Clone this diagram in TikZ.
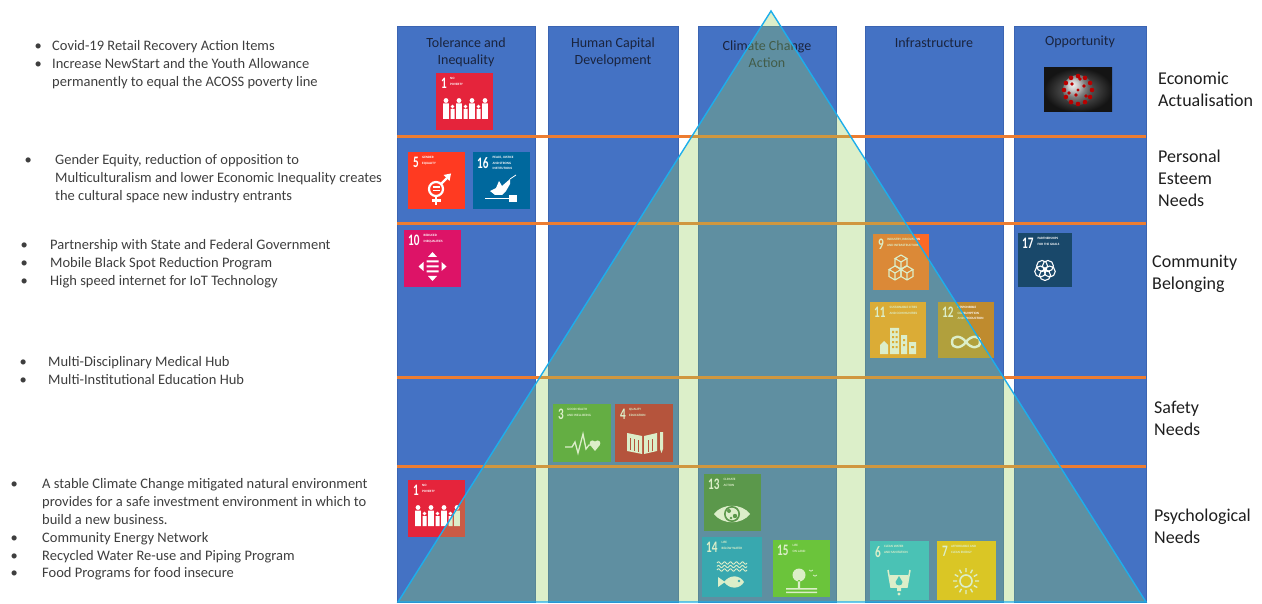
\documentclass[tikz,border=0pt]{standalone}
\usepackage{fontspec}
\setmainfont{Carlito}

\definecolor{pillarblue}{HTML}{4472C4}
\definecolor{pillarrim}{HTML}{3B64B2}
\definecolor{rungorange}{HTML}{ED7D31}
\definecolor{apexcyan}{HTML}{1DAEEB}
\definecolor{apexfill}{RGB}{150,205,92}
\definecolor{headink}{RGB}{26,36,62}
\definecolor{levelink}{RGB}{30,30,30}
\definecolor{noteink}{RGB}{62,62,62}
\definecolor{goalone}{HTML}{E5243B}
\definecolor{goalthree}{HTML}{4C9F38}
\definecolor{goalfour}{HTML}{C5192D}
\definecolor{goalfive}{HTML}{FF3A21}
\definecolor{goalsix}{HTML}{26BDE2}
\definecolor{goalseven}{HTML}{FCC30B}
\definecolor{goalnine}{HTML}{FD6925}
\definecolor{goalten}{HTML}{DD1367}
\definecolor{goaleleven}{HTML}{FD9D24}
\definecolor{goaltwelve}{HTML}{BF8B2E}
\definecolor{goalthirteen}{HTML}{3F7E44}
\definecolor{goalfourteen}{HTML}{0A97D9}
\definecolor{goalfifteen}{HTML}{56C02B}
\definecolor{goalsixteen}{HTML}{00689D}
\definecolor{goalseventeen}{HTML}{19486A}

\begin{document}
\begin{tikzpicture}[x=1pt, y=-1pt,
    pillar/.style={anchor=north west, minimum height=576pt, inner sep=0pt, fill=pillarblue, draw=pillarrim, line width=0.8pt},
    rung/.style={draw=rungorange, line width=3pt},
    head/.style={anchor=north, inner sep=0pt, align=center, text=headink, font=\fontsize{14}{17}\selectfont},
    level/.style={anchor=north west, inner sep=0pt, align=left, text=levelink, font=\fontsize{18}{22}\selectfont},
    note/.style={anchor=north west, inner sep=0pt, text=noteink, font=\fontsize{14.5}{17.8}\selectfont},
    tile/.style={anchor=north west, minimum size=57pt, inner sep=0pt},
    goalno/.style={anchor=north west, inner sep=0pt, text=white, font=\bfseries\fontsize{16}{16}\selectfont},
    goalname/.style={anchor=north west, inner sep=0pt, align=left, text=white, font=\bfseries\fontsize{3.3}{5.8}\selectfont}]

    \useasboundingbox (0,0) rectangle (1262,604);

    % Draw columns
    \node[pillar, minimum width=138pt] (tolerance) at (397,26) {};
    \node[pillar, minimum width=130pt] (humancap) at (548,26) {};
    \node[pillar, minimum width=138pt] (climate) at (698,26) {};
    \node[pillar, minimum width=138pt] (infra) at (865,26) {};
    \node[pillar, minimum width=132pt] (opport) at (1014,26) {};

    % Draw level separators
    \draw[rung] (397,137) -- (1146,137);
    \draw[rung] (397,224) -- (1146,224);
    \draw[rung] (397,377) -- (1146,377);
    \draw[rung] (397,466) -- (1146,466);

    % Column titles
    \node[head] (tolhead) at (466,37.5) {Tolerance and\\Inequality};
    \node[head] (humhead) at (613,37.5) {Human Capital\\Development};
    \node[head] (climhead) at (767,40.5) {Climate Change\\Action};
    \node[head] (infhead) at (934,37.5) {Infrastructure};
    \node[head] (opphead) at (1080,35.5) {Opportunity};

    % Goal 1 (top)
    \begin{scope}[shift={(436,73)}]
        \node[tile, fill=goalone] (povertyup) at (0,0) {};
        \node[goalno] (povertyupno) at (5,5) {\scalebox{0.7}[1]{1}};
        \node[goalname] (povertyupname) at (14,4.5) {NO\\POVERTY};
        \fill[white] (10,27.5) circle (2.4) (7.2,30.5) rectangle (12.8,46)
                     (16.5,33.5) circle (1.9) (14.5,36) rectangle (18.5,46)
                     (23,27.5) circle (2.4) (20.2,30.5) rectangle (25.8,46)
                     (29.5,33.5) circle (1.9) (27.5,36) rectangle (31.5,46)
                     (36,27.5) circle (2.4) (33.2,30.5) rectangle (38.8,46)
                     (42.5,33.5) circle (1.9) (40.5,36) rectangle (44.5,46)
                     (49,27.5) circle (2.4) (46.2,30.5) rectangle (51.8,46);
    \end{scope}

    % Goal 5
    \begin{scope}[shift={(408,152)}]
        \node[tile, fill=goalfive] (gender) at (0,0) {};
        \node[goalno] (genderno) at (5,5) {\scalebox{0.7}[1]{5}};
        \node[goalname] (gendername) at (14,4.5) {GENDER\\EQUALITY};
        \draw[white, line width=2.2pt] (28,37) circle (7);
        \draw[white, line width=2.2pt] (33,32) -- (39,26);
        \fill[white] (43,21.5) -- (35.5,23) -- (41.5,29) -- cycle;
        \draw[white, line width=2.2pt] (28,44) -- (28,53) (23.5,48.5) -- (32.5,48.5);
        \draw[white, line width=1.4pt] (24.5,35.2) -- (31.5,35.2) (24.5,38.8) -- (31.5,38.8);
    \end{scope}

    % Goal 16
    \begin{scope}[shift={(473,152)}]
        \node[tile, fill=goalsixteen] (peace) at (0,0) {};
        \node[goalno] (peaceno) at (4,5) {\scalebox{0.7}[1]{16}};
        \node[goalname] (peacename) at (19.5,4) {PEACE, JUSTICE\\AND STRONG\\INSTITUTIONS};
        \fill[white] (17,39) -- (23,36) -- (26,29) -- (29,34) -- (37,27) -- (37,32) -- (33,39) -- (29,43) -- (22,43) -- cycle;
        \draw[white, line width=0.8pt] (37,27) -- (43,23);
        \fill[white] (12,46) rectangle (37,47.5);
        \fill[white] (36,43) rectangle (44,50);
    \end{scope}

    % Goal 10
    \begin{scope}[shift={(404,230)}]
        \node[tile, fill=goalten] (reduced) at (0,0) {};
        \node[goalno] (reducedno) at (4,5) {\scalebox{0.7}[1]{10}};
        \node[goalname] (reducedname) at (19.5,4.5) {REDUCED\\INEQUALITIES};
        \fill[white] (28.5,22) -- (24,27) -- (33,27) -- cycle;
        \fill[white] (28.5,51) -- (24,46) -- (33,46) -- cycle;
        \fill[white] (14.5,36.5) -- (19.5,32) -- (19.5,41) -- cycle;
        \fill[white] (42.5,36.5) -- (37.5,32) -- (37.5,41) -- cycle;
        \fill[white] (22.5,30.5) rectangle (34.5,32.5) (22.5,35.5) rectangle (34.5,37.5) (22.5,40.5) rectangle (34.5,42.5);
    \end{scope}

    % Goal 17
    \begin{scope}[shift={(1018,233)}]
        \node[tile, fill=goalseventeen, minimum size=54pt] (partners) at (0,0) {};
        \node[goalno] (partnersno) at (4,5) {\scalebox{0.7}[1]{17}};
        \node[goalname] (partnersname) at (19.5,4.5) {PARTNERSHIPS\\FOR THE GOALS};
        \draw[white, line width=1.1pt] (27,37) ++(90:5) circle (5.5) (27,37) ++(162:5) circle (5.5)
              (27,37) ++(234:5) circle (5.5) (27,37) ++(306:5) circle (5.5) (27,37) ++(18:5) circle (5.5);
    \end{scope}

    % Goal 9
    \begin{scope}[shift={(873,234)}]
        \node[tile, fill=goalnine, minimum size=56pt] (industry) at (0,0) {};
        \node[goalno] (industryno) at (5,5) {\scalebox{0.7}[1]{9}};
        \node[goalname] (industryname) at (14,4.5) {INDUSTRY, INNOVATION\\AND INFRASTRUCTURE};
        \draw[white, line width=1.1pt] (28,21) -- ++(6,3.5) -- ++(-6,3.5) -- ++(-6,-3.5) -- cycle
              (22,24.5) -- ++(0,7) -- ++(6,3.5) -- ++(6,-3.5) -- ++(0,-7) (28,28) -- ++(0,7);
        \draw[white, line width=1.1pt] (22,32) -- ++(6,3.5) -- ++(-6,3.5) -- ++(-6,-3.5) -- cycle
              (16,35.5) -- ++(0,7) -- ++(6,3.5) -- ++(6,-3.5) -- ++(0,-7) (22,39) -- ++(0,7);
        \draw[white, line width=1.1pt] (34,32) -- ++(6,3.5) -- ++(-6,3.5) -- ++(-6,-3.5) -- cycle
              (28,35.5) -- ++(0,7) -- ++(6,3.5) -- ++(6,-3.5) -- ++(0,-7) (34,39) -- ++(0,7);
    \end{scope}

    % Goal 11
    \begin{scope}[shift={(870,302)}]
        \node[tile, fill=goaleleven, minimum size=56pt] (cities) at (0,0) {};
        \node[goalno] (citiesno) at (4,5) {\scalebox{0.7}[1]{11}};
        \node[goalname] (citiesname) at (19.5,4.5) {SUSTAINABLE CITIES\\AND COMMUNITIES};
        \fill[white] (10,43) -- (14,39) -- (18,43) -- (18,52) -- (10,52) -- cycle;
        \fill[white] (20,26) rectangle (29,52) (31,33) rectangle (37,52) (39,40) rectangle (46,52);
        \fill[goaleleven] (22,29) rectangle (24,31) (25.5,29) rectangle (27.5,31)
                          (22,34) rectangle (24,36) (25.5,34) rectangle (27.5,36)
                          (22,39) rectangle (24,41) (25.5,39) rectangle (27.5,41)
                          (22,44) rectangle (24,46) (25.5,44) rectangle (27.5,46)
                          (33,37) rectangle (35,39) (33,42) rectangle (35,44) (41,44) rectangle (44,46);
    \end{scope}

    % Goal 12
    \begin{scope}[shift={(938,302)}]
        \node[tile, fill=goaltwelve, minimum size=56pt] (consume) at (0,0) {};
        \node[goalno] (consumeno) at (4,5) {\scalebox{0.7}[1]{12}};
        \node[goalname] (consumename) at (19.5,4) {RESPONSIBLE\\CONSUMPTION\\AND PRODUCTION};
        \draw[white, line width=2.4pt] (28,40) .. controls (23,33) and (14,33) .. (14,40) .. controls (14,47) and (23,47) .. (28,40)
              .. controls (33,33) and (42,33) .. (42,40) .. controls (42,47) and (33,47) .. (28,40);
    \end{scope}

    % Goal 3
    \begin{scope}[shift={(553,404)}]
        \node[tile, fill=goalthree, minimum size=58pt] (health) at (0,0) {};
        \node[goalno] (healthno) at (5,5) {\scalebox{0.7}[1]{3}};
        \node[goalname] (healthname) at (14,4.5) {GOOD HEALTH\\AND WELL-BEING};
        \draw[white, line width=1.3pt] (12,43) -- (19,43) -- (22,38) -- (25,49) -- (30,30) -- (33,45) -- (36,41) -- (38,41);
        \fill[white] (42,47) -- (37.5,41.5) .. controls (35,38.5) and (38.5,34.5) .. (42,37.5) .. controls (45.5,34.5) and (49,38.5) .. (46.5,41.5) -- cycle;
    \end{scope}

    % Goal 4
    \begin{scope}[shift={(615,404)}]
        \node[tile, fill=goalfour, minimum size=58pt] (educate) at (0,0) {};
        \node[goalno] (educateno) at (5,5) {\scalebox{0.7}[1]{4}};
        \node[goalname] (educatename) at (14,4.5) {QUALITY\\EDUCATION};
        \fill[white] (12,29) -- (27,32) -- (27,50) -- (12,47) -- cycle;
        \fill[white] (29,32) -- (42,29) -- (42,47) -- (29,50) -- cycle;
        \draw[goalfour, line width=0.6pt] (15,34) -- (15,46) (19,35) -- (19,47) (23,36) -- (23,48)
              (33,36) -- (33,48) (37,35) -- (37,47);
        \fill[white] (45,28) rectangle (48,45) (45,45) -- (48,45) -- (46.5,49) -- cycle;
    \end{scope}

    % Goal 1 (bottom)
    \begin{scope}[shift={(408,480)}]
        \node[tile, fill=goalone] (povertylow) at (0,0) {};
        \node[goalno] (povertylowno) at (5,5) {\scalebox{0.7}[1]{1}};
        \node[goalname] (povertylowname) at (14,4.5) {NO\\POVERTY};
        \fill[white] (10,27.5) circle (2.4) (7.2,30.5) rectangle (12.8,46)
                     (16.5,33.5) circle (1.9) (14.5,36) rectangle (18.5,46)
                     (23,27.5) circle (2.4) (20.2,30.5) rectangle (25.8,46)
                     (29.5,33.5) circle (1.9) (27.5,36) rectangle (31.5,46)
                     (36,27.5) circle (2.4) (33.2,30.5) rectangle (38.8,46)
                     (42.5,33.5) circle (1.9) (40.5,36) rectangle (44.5,46)
                     (49,27.5) circle (2.4) (46.2,30.5) rectangle (51.8,46);
    \end{scope}

    % Goal 13
    \begin{scope}[shift={(704,474)}]
        \node[tile, fill=goalthirteen] (climact) at (0,0) {};
        \node[goalno] (climactno) at (4,5) {\scalebox{0.7}[1]{13}};
        \node[goalname] (climactname) at (19.5,4.5) {CLIMATE\\ACTION};
        \fill[white] (10,40) .. controls (18,29) and (38,29) .. (46,40) .. controls (38,51) and (18,51) .. (10,40) -- cycle;
        \fill[goalthirteen] (28,40) circle (8);
        \fill[white] (28,40) circle (6.2);
        \fill[goalthirteen] (25,37) circle (2) (31,42) circle (2.2) (27,44) circle (1.3);
    \end{scope}

    % Goal 14
    \begin{scope}[shift={(702,537)}]
        \node[tile, fill=goalfourteen, minimum size=60pt] (water) at (0,0) {};
        \node[goalno] (waterno) at (4,5) {\scalebox{0.7}[1]{14}};
        \node[goalname] (watername) at (19.5,4.5) {LIFE\\BELOW WATER};
        \draw[white, line width=1pt] plot[domain=15:45, samples=31, smooth] (\x, {26+1.2*sin(\x*60)});
        \draw[white, line width=1pt] plot[domain=15:45, samples=31, smooth] (\x, {29.5+1.2*sin(\x*60)});
        \draw[white, line width=1pt] plot[domain=15:45, samples=31, smooth] (\x, {33+1.2*sin(\x*60)});
        \fill[white] (22,45) .. controls (28,37) and (38,38) .. (42,45) .. controls (38,52) and (28,53) .. (22,45) -- cycle;
        \fill[white] (23,45) -- (16,40) -- (16,50) -- cycle;
        \fill[goalfourteen] (37,44) circle (1.3);
    \end{scope}

    % Goal 15
    \begin{scope}[shift={(773,540)}]
        \node[tile, fill=goalfifteen] (land) at (0,0) {};
        \node[goalno] (landno) at (4,5) {\scalebox{0.7}[1]{15}};
        \node[goalname] (landname) at (19.5,4.5) {LIFE\\ON LAND};
        \fill[white] (26,35) circle (6.5) (24.8,40) rectangle (27.2,48);
        \fill[white] (13,48) rectangle (44,49.5) (13,51.5) rectangle (44,53);
        \draw[white, line width=0.7pt] (36,30) -- (38,31.2) -- (40,30) (40,35) -- (42,36.2) -- (44,35);
    \end{scope}

    % Goal 6
    \begin{scope}[shift={(870,541)}]
        \node[tile, fill=goalsix, minimum size=59pt] (cleanwater) at (0,0) {};
        \node[goalno] (cleanwaterno) at (5,5) {\scalebox{0.7}[1]{6}};
        \node[goalname] (cleanwatername) at (14,4.5) {CLEAN WATER\\AND SANITATION};
        \draw[white, line width=1.5pt] (18,29) -- (21,46) -- (37,46) -- (40,29);
        \fill[white] (19.5,34) -- (21,46) -- (37,46) -- (38.5,34) -- cycle;
        \fill[goalsix] (29,35) -- (25.5,41) .. controls (25,45.5) and (33,45.5) .. (32.5,41) -- cycle;
        \fill[white] (27,46) rectangle (31,50) (29,53) circle (1.6);
    \end{scope}

    % Goal 7
    \begin{scope}[shift={(937,541)}]
        \node[tile, fill=goalseven, minimum size=59pt] (energy) at (0,0) {};
        \node[goalno] (energyno) at (5,5) {\scalebox{0.7}[1]{7}};
        \node[goalname] (energyname) at (14,4.5) {AFFORDABLE AND\\CLEAN ENERGY};
        \draw[white, line width=1.6pt] (29,40) circle (6);
        \draw[white, line width=1.4pt] (29,40) ++(0:9) -- ++(0:4) (29,40) ++(30:9) -- ++(30:4)
              (29,40) ++(60:9) -- ++(60:4) (29,40) ++(90:9) -- ++(90:4)
              (29,40) ++(120:9) -- ++(120:4) (29,40) ++(150:9) -- ++(150:4)
              (29,40) ++(180:9) -- ++(180:4) (29,40) ++(210:9) -- ++(210:4)
              (29,40) ++(240:9) -- ++(240:4) (29,40) ++(270:9) -- ++(270:4)
              (29,40) ++(300:9) -- ++(300:4) (29,40) ++(330:9) -- ++(330:4);
    \end{scope}

    % Virus picture
    \shade[inner color=black!55, outer color=black!92] (1044,68) rectangle (1112,112);
    \shade[ball color=black!30] (1078,90) circle (15);
    \fill[red!72!black] (1078,90) ++(0:14) circle (2.3) (1078,90) ++(30:14) circle (2.3)
          (1078,90) ++(60:14) circle (2.3) (1078,90) ++(90:14) circle (2.3)
          (1078,90) ++(120:14) circle (2.3) (1078,90) ++(150:14) circle (2.3)
          (1078,90) ++(180:14) circle (2.3) (1078,90) ++(210:14) circle (2.3)
          (1078,90) ++(240:14) circle (2.3) (1078,90) ++(270:14) circle (2.3)
          (1078,90) ++(300:14) circle (2.3) (1078,90) ++(330:14) circle (2.3)
          (1072,84) circle (1.8) (1084,86) circle (1.8) (1076,95) circle (1.8)
          (1086,96) circle (1.8) (1069,93) circle (1.8) (1080,79) circle (1.8) (1078,90) circle (1.6);

    % Pyramid
    \filldraw[fill=apexfill, fill opacity=0.33, draw=apexcyan, line width=1.4pt] (398,602) -- (771,11) -- (1146,602) -- cycle;

    % Needs levels
    \node[level] (econ) at (1158,71.5) {Economic\\Actualisation};
    \node[level] (esteem) at (1158,149.5) {Personal\\Esteem\\Needs};
    \node[level] (belong) at (1152,254.5) {Community\\Belonging};
    \node[level] (safety) at (1154,400.5) {Safety\\Needs};
    \node[level] (psych) at (1154,508.5) {Psychological\\Needs};

    % Action items
    \node[note] (covidnote) at (34.5,38.2) {\begin{tabular}{@{}p{17.5pt}@{}l@{}}
        \textbullet & Covid-19 Retail Recovery Action Items\\
        \textbullet & Increase NewStart and the Youth Allowance\\
        & permanently  to equal the ACOSS poverty line
    \end{tabular}};
    \node[note] (equitynote) at (24.5,152.2) {\begin{tabular}{@{}p{30.5pt}@{}l@{}}
        \textbullet & Gender Equity, reduction of opposition to\\
        & Multiculturalism  and lower Economic Inequality creates\\
        & the cultural space new industry entrants
    \end{tabular}};
    \node[note] (networknote) at (20.5,237.2) {\begin{tabular}{@{}p{29.5pt}@{}l@{}}
        \textbullet & Partnership with State and Federal Government\\
        \textbullet & Mobile Black Spot Reduction Program\\
        \textbullet & High speed internet for IoT Technology
    \end{tabular}};
    \node[note] (hubnote) at (19.5,354.2) {\begin{tabular}{@{}p{28.5pt}@{}l@{}}
        \textbullet & Multi-Disciplinary Medical Hub\\
        \textbullet & Multi-Institutional Education Hub
    \end{tabular}};
    \node[note] (basenote) at (10.5,476.2) {\begin{tabular}{@{}p{31.5pt}@{}l@{}}
        \textbullet & A stable Climate Change mitigated natural environment\\
        & provides for a safe investment environment in which to\\
        & build a new business.\\
        \textbullet & Community Energy Network\\
        \textbullet & Recycled Water Re-use and Piping Program\\
        \textbullet & Food Programs for food insecure
    \end{tabular}};
\end{tikzpicture}
\end{document}
